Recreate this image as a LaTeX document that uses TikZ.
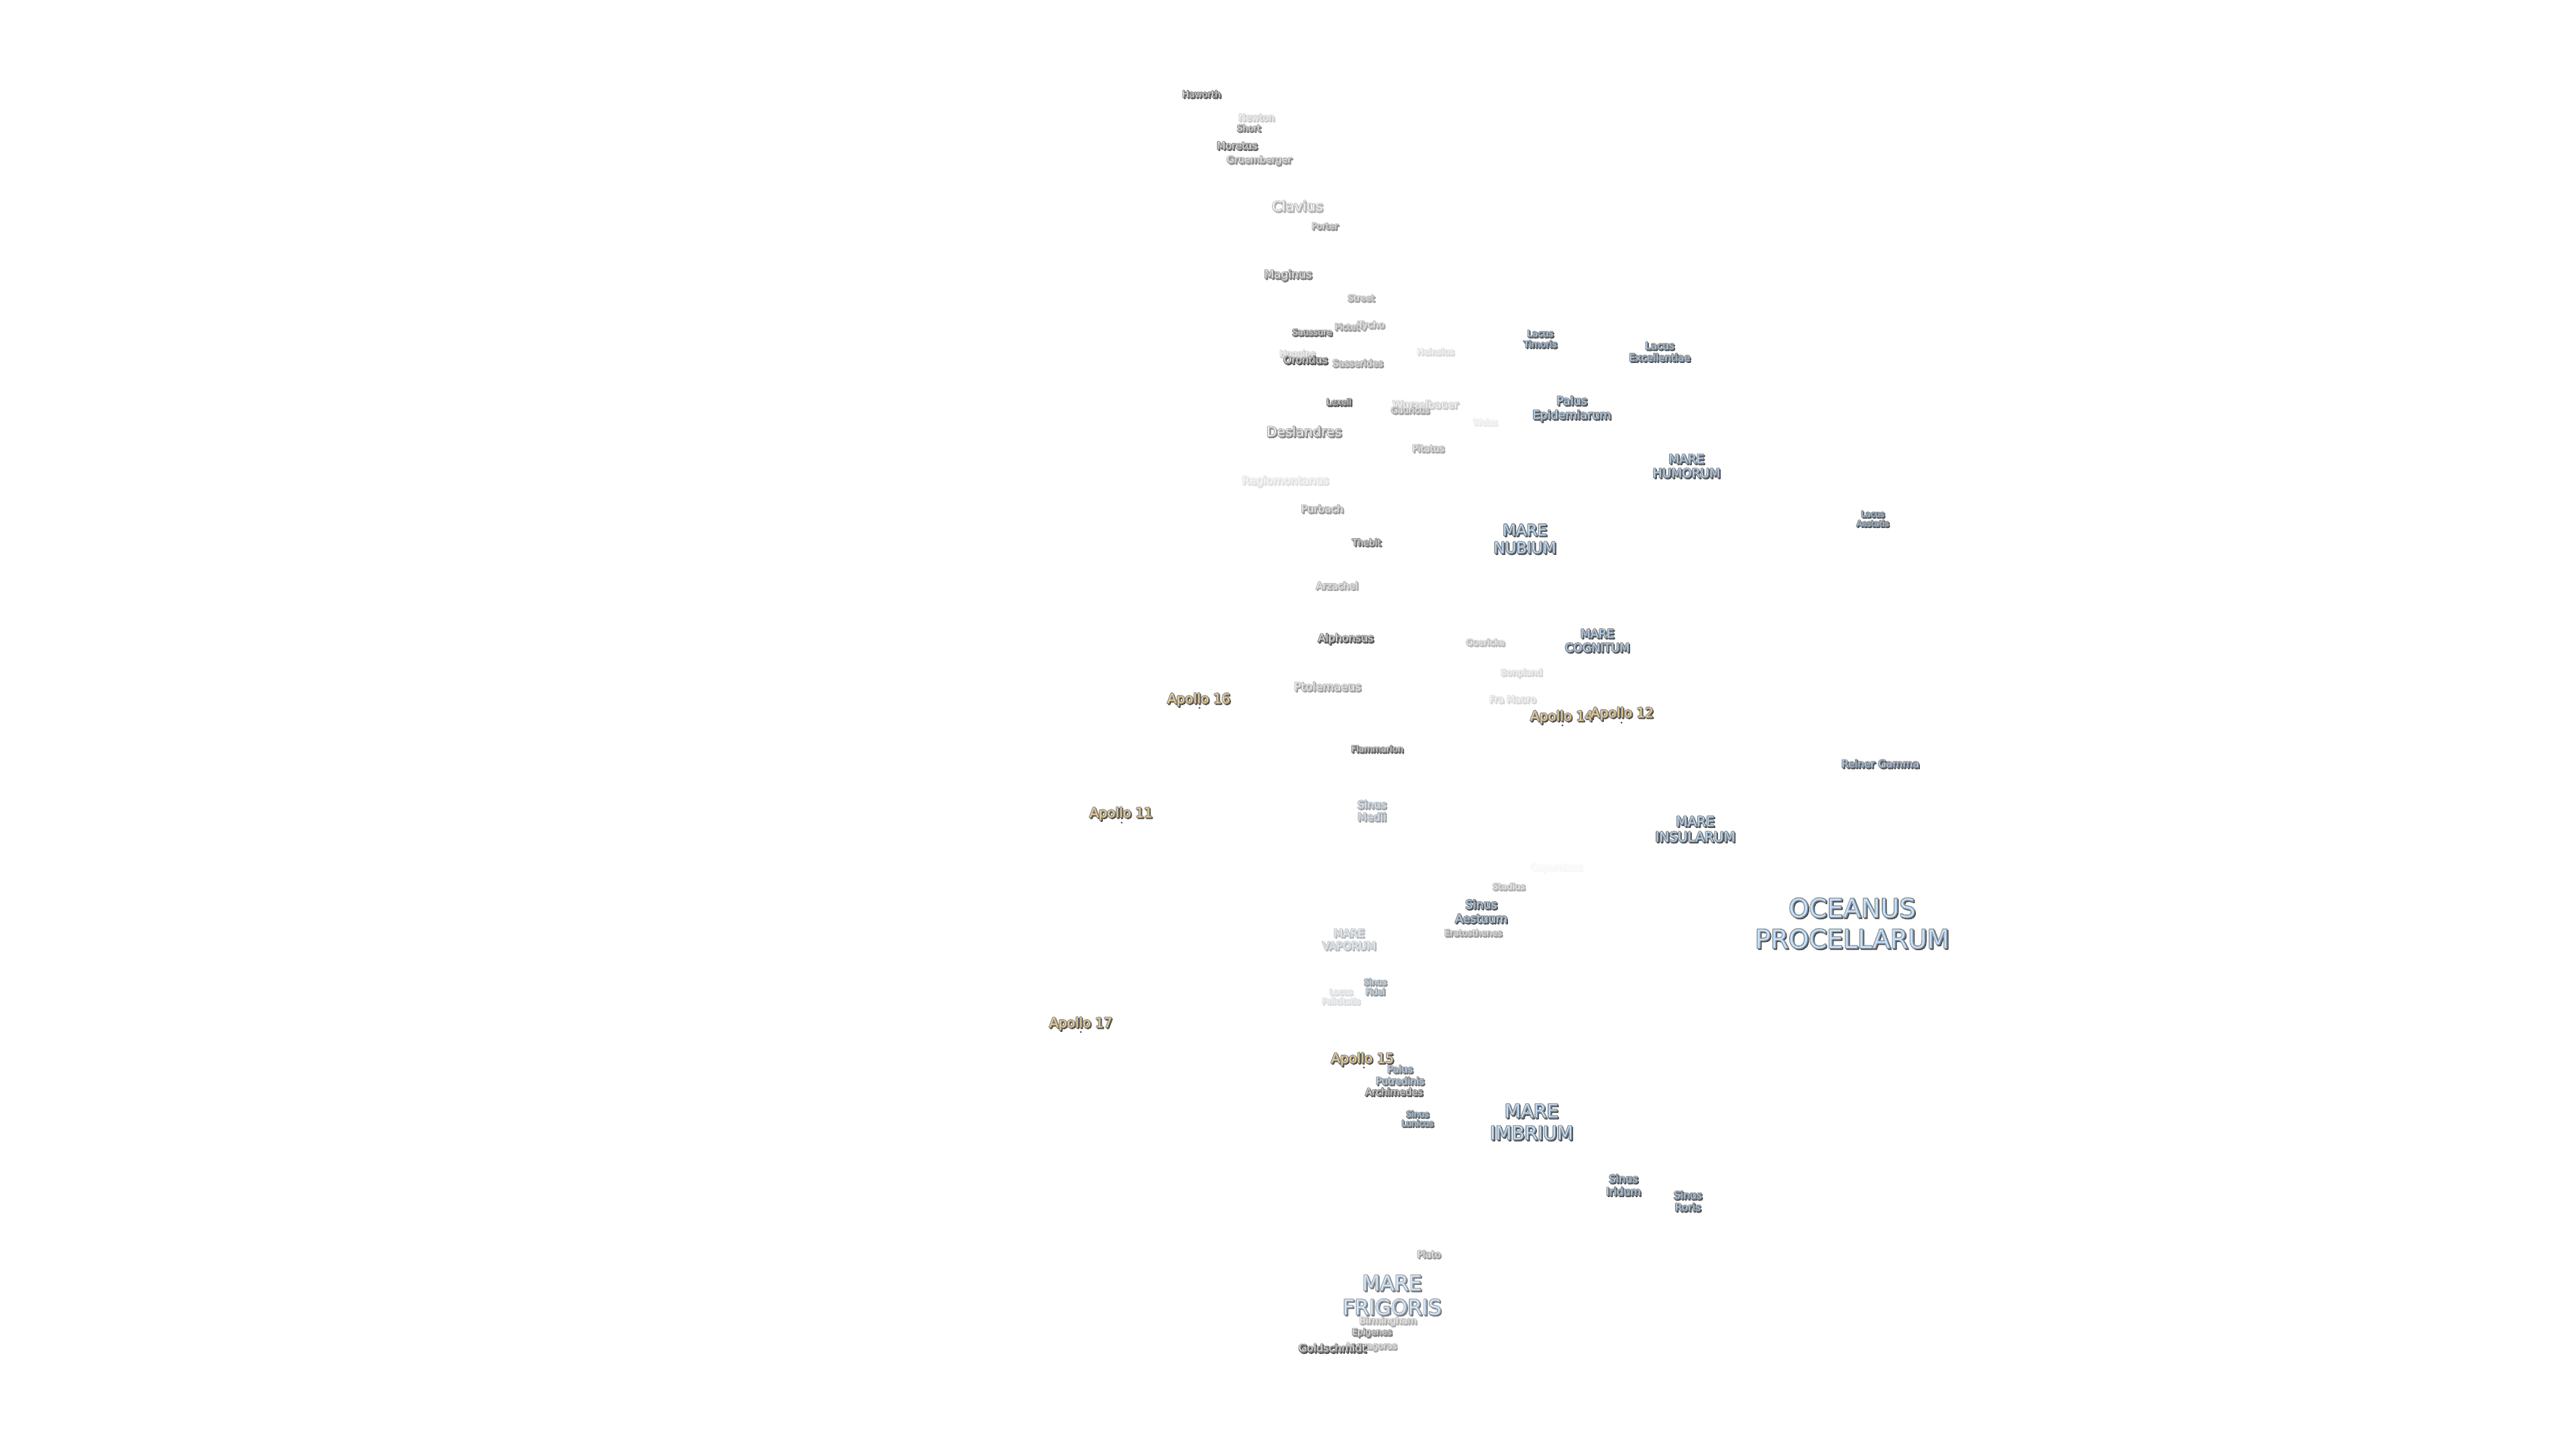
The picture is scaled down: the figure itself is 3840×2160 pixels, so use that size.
\documentclass[tikz,border=0pt]{standalone}
\usepackage{fontspec}
\setmainfont{DejaVu Sans}
\definecolor{craterFill}{HTML}{FFFFFF}
\definecolor{craterHalo}{HTML}{808080}
\definecolor{seaFill}{HTML}{C6E2FF}
\definecolor{seaHalo}{HTML}{80888F}
\definecolor{apolloFill}{HTML}{FFDE9C}
\definecolor{apolloHalo}{HTML}{8E8B84}
\newcommand{\strokeon}[1]{\special{pdf:code 1 j 1 J #1 w 2 Tr}}
\newcommand{\strokeonly}[1]{\special{pdf:code 1 j 1 J #1 w 1 Tr}}
\tikzset{
  lbl/.style={inner sep=0pt,outer sep=0pt,align=center,anchor=center},
  apdot/.style={circle,fill=black!70,inner sep=0pt,minimum size=3pt}
}
% #1 name, #2 x, #3 y, #4 size, #5 leading, #6 opacity, #7 family, #8 text
\newcommand{\moonlabel}[8]{%
  \pgfmathsetmacro\labop{100*(#6)^0.72}%
  \pgfmathsetmacro\labsh{72*(#6)^0.72}%
  \colorlet{lblS}{black!\labsh!white}%
  \colorlet{lblH}{#7Halo!\labop!white}%
  \colorlet{lblF}{#7Fill!\labop!white}%
  \node[lbl,text=lblS,font={\fontsize{#4}{#5}\selectfont}] (#1-shadow) at (#2+1.6,#3+1.8) {\strokeon{1.7}#8};
  \node[lbl,text=lblH,font={\fontsize{#4}{#5}\selectfont}] (#1-halo) at (#2,#3) {\strokeon{2.4}#8};
  \node[lbl,text=lblF,font={\fontsize{#4}{#5}\selectfont}] (#1-fill) at (#2,#3) {#8};
  \node[lbl,text=lblH,font={\fontsize{#4}{#5}\selectfont}] (#1) at (#2,#3) {\strokeonly{0.3}#8};
}
\begin{document}
\begin{tikzpicture}[x=1pt,y=-1pt]
\useasboundingbox (0,0) rectangle (3840,2160);
\fill[white] (0,0) rectangle (3840,2160);
% craters
\moonlabel{haworth}{1791}{140}{13.5}{15}{.95}{crater}{Haworth}
\moonlabel{newton}{1873}{175}{14}{15}{.2}{crater}{Newton}
\moonlabel{short}{1861.5}{190.7}{13}{15}{.7}{crater}{Short}
\moonlabel{moretus}{1844}{217}{15}{15}{.85}{crater}{Moretus}
\moonlabel{gruemberger}{1877}{239}{14.4}{15}{.55}{crater}{Gruemberger}
\moonlabel{clavius}{1934}{307}{21}{23}{.35}{crater}{Clavius}
\moonlabel{porter}{1975}{337}{13}{15}{.55}{crater}{Porter}
\moonlabel{maginus}{1920}{410}{17}{19}{.7}{crater}{Maginus}
\moonlabel{street}{2029}{444}{13}{15}{.45}{crater}{Street}
\moonlabel{saussure}{1956}{495}{13}{15}{.85}{crater}{Saussure}
\moonlabel{pictet}{2008}{487}{13}{15}{.5}{crater}{Pictet}
\moonlabel{tycho}{2044}{485}{14}{15}{.4}{crater}{Tycho}
\moonlabel{huggins}{1934}{528}{13}{15}{.2}{crater}{Huggins}
\moonlabel{orontius}{1946}{536}{15.5}{17}{1}{crater}{Orontius}
\moonlabel{sasserides}{2024}{541}{14}{15}{.5}{crater}{Sasserides}
\moonlabel{heinsius}{2140}{524}{13}{15}{.12}{crater}{Heinsius}
\moonlabel{lexell}{1996}{599}{13}{15}{1}{crater}{Lexell}
\moonlabel{wurzelbauer}{2125}{602.5}{15.5}{17}{.2}{crater}{Wurzelbauer}
\moonlabel{gauricus}{2102}{611}{13}{15}{.45}{crater}{Gauricus}
\moonlabel{weiss}{2214}{629}{12.5}{15}{.06}{crater}{Weiss}
\moonlabel{deslandres}{1944}{643}{20}{22}{.6}{crater}{Deslandres}
\moonlabel{pitatus}{2129}{668}{14}{15}{.4}{crater}{Pitatus}
\moonlabel{regiomontanus}{1916}{717}{16.5}{18}{.1}{crater}{Regiomontanus}
\moonlabel{purbach}{1971}{758}{15.5}{17}{.5}{crater}{Purbach}
\moonlabel{thebit}{2037}{808}{13.5}{15}{.8}{crater}{Thebit}
\moonlabel{arzachel}{1993}{872.6}{14.5}{16}{.4}{crater}{Arzachel}
\moonlabel{alphonsus}{2006}{952}{16}{18}{1}{crater}{Alphonsus}
\moonlabel{guericke}{2214}{957}{13}{15}{.3}{crater}{Guericke}
\moonlabel{bonpland}{2268}{1003}{13}{15}{.14}{crater}{Bonpland}
\moonlabel{ptolemaeus}{1979}{1023}{17}{19}{.45}{crater}{Ptolemaeus}
\moonlabel{framauro}{2255}{1042}{14}{15}{.14}{crater}{Fra Mauro}
\moonlabel{flammarion}{2053}{1116}{13}{15}{.9}{crater}{Flammarion}
\moonlabel{copernicus}{2320}{1293}{14}{15}{.015}{crater}{Copernicus}
\moonlabel{stadius}{2249}{1321}{13}{15}{.35}{crater}{Stadius}
\moonlabel{eratosthenes}{2196}{1390}{13}{15}{.5}{crater}{Eratosthenes}
\moonlabel{archimedes}{2078}{1627}{14.5}{16}{.95}{crater}{Archimedes}
\moonlabel{plato}{2130}{1869}{14}{15}{.5}{crater}{Plato}
\moonlabel{birmingham}{2069}{1969}{14}{15}{.35}{crater}{Birmingham}
\moonlabel{epigenes}{2045}{1986}{13}{15}{.7}{crater}{Epigenes}
\moonlabel{anaxagoras}{2043.5}{2007}{13}{15}{.4}{crater}{Anaxagoras}
\moonlabel{goldschmidt}{1986}{2009}{16}{18}{1}{crater}{Goldschmidt}
% seas
\moonlabel{timoris}{2296}{505}{13.5}{16}{1}{sea}{Lacus\\Timoris}
\moonlabel{excellentiae}{2474}{524}{15}{17.5}{1}{sea}{Lacus\\Excellentiae}
\moonlabel{epidemiarum}{2343}{609}{17.5}{21}{1}{sea}{Palus\\Epidemiarum}
\moonlabel{humorum}{2514}{694.5}{18.5}{21}{1}{sea}{MARE\\HUMORUM}
\moonlabel{aestatis}{2791.6}{773}{12}{14}{1}{sea}{Lacus\\Aestatis}
\moonlabel{nubium}{2273}{803}{23}{26.4}{1}{sea}{MARE\\NUBIUM}
\moonlabel{cognitum}{2381}{954.6}{17.5}{21}{1}{sea}{MARE\\COGNITUM}
\moonlabel{reiner}{2803}{1138}{15.5}{17}{1}{sea}{Reiner Gamma}
\moonlabel{medii}{2045}{1208}{16}{18.4}{.45}{sea}{Sinus\\Medii}
\moonlabel{insularum}{2527}{1235.6}{20}{23}{1}{sea}{MARE\\INSULARUM}
\moonlabel{aestuum}{2208}{1358}{17.5}{21}{1}{sea}{Sinus\\Aestuum}
\moonlabel{vaporum}{2011}{1400}{16}{19}{.3}{sea}{MARE\\VAPORUM}
\moonlabel{fidei}{2050}{1470.5}{12.5}{14.5}{.55}{sea}{Sinus\\Fidei}
\moonlabel{felicitatis}{1999}{1485}{12}{14}{.12}{sea}{Lacus\\Felicitatis}
\moonlabel{putredinis}{2087}{1602}{14.5}{17.6}{.8}{sea}{Palus\\Putredinis}
\moonlabel{lunicus}{2113}{1667}{12.5}{13.7}{.9}{sea}{Sinus\\Lunicus}
\moonlabel{imbrium}{2283}{1672}{28}{32.7}{1}{sea}{MARE\\IMBRIUM}
\moonlabel{procellarum}{2761}{1376}{38.5}{46}{1}{sea}{OCEANUS\\PROCELLARUM}
\moonlabel{iridum}{2420}{1766}{16}{19}{1}{sea}{Sinus\\Iridum}
\moonlabel{roris}{2516}{1790}{15.5}{18}{1}{sea}{Sinus\\Roris}
\moonlabel{frigoris}{2075}{1930}{31}{36}{.7}{sea}{MARE\\FRIGORIS}
% Apollo sites
\node[apdot] (a16dot) at (1788,1055) {};
\node[apdot] (a11dot) at (1672,1226) {};
\node[apdot] (a14dot) at (2329,1081) {};
\node[apdot] (a12dot) at (2417,1077) {};
\node[apdot] (a15dot) at (2033,1591) {};
\node[apdot] (a17dot) at (1611,1538) {};
\moonlabel{a16}{1787}{1042.5}{20}{22}{1}{apollo}{Apollo 16}
\moonlabel{a11}{1671}{1212.5}{20}{22}{1}{apollo}{Apollo 11}
\moonlabel{a17}{1611}{1525.5}{20}{22}{1}{apollo}{Apollo 17}
\moonlabel{a14}{2328}{1068.5}{20}{22}{1}{apollo}{Apollo 14}
\moonlabel{a12}{2418}{1063.5}{20}{22}{1}{apollo}{Apollo 12}
\moonlabel{a15}{2031}{1578.5}{20}{22}{1}{apollo}{Apollo 15}
\end{tikzpicture}
\end{document}
